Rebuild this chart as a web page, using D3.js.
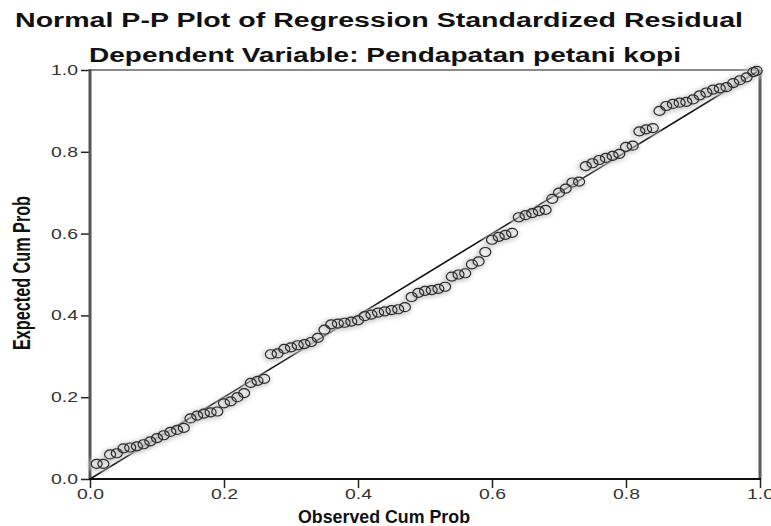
<!DOCTYPE html>
<html>
<head>
<meta charset="utf-8">
<script src="https://cdn.jsdelivr.net/npm/d3@7"></script>
<style>
  body { margin: 0; background: #fff; }
  text { font-family: 'Liberation Sans', Arial, sans-serif; }
</style>
</head>
<body>
<svg width="771" height="526"></svg>
<script>
const width = 771, height = 526

const titleText = 'Normal P-P Plot of Regression Standardized Residual';
const subtitleText = 'Dependent Variable: Pendapatan petani kopi';
const xLabel = 'Observed Cum Prob';
const yLabel = 'Expected Cum Prob';
const tickValues = [0, 0.2, 0.4, 0.6, 0.8, 1.0];

// observed cumulative probability of each residual (x)
const observed = [
    0.01, 0.02, 0.03, 0.04, 0.05, 0.06, 0.07, 0.08, 0.09, 0.10,
    0.11, 0.12, 0.13, 0.14, 0.15, 0.16, 0.17, 0.18, 0.19, 0.20,
    0.21, 0.22, 0.23, 0.24, 0.25, 0.26, 0.27, 0.28, 0.29, 0.30,
    0.31, 0.32, 0.33, 0.34, 0.35, 0.36, 0.37, 0.38, 0.39, 0.40,
    0.41, 0.42, 0.43, 0.44, 0.45, 0.46, 0.47, 0.48, 0.49, 0.50,
    0.51, 0.52, 0.53, 0.54, 0.55, 0.56, 0.57, 0.58, 0.59, 0.60,
    0.61, 0.62, 0.63, 0.64, 0.65, 0.66, 0.67, 0.68, 0.69, 0.70,
    0.71, 0.72, 0.73, 0.74, 0.75, 0.76, 0.77, 0.78, 0.79, 0.80,
    0.81, 0.82, 0.83, 0.84, 0.85, 0.86, 0.87, 0.88, 0.89, 0.90,
    0.91, 0.92, 0.93, 0.94, 0.95, 0.96, 0.97, 0.98, 0.99, 0.995
];

// expected cumulative probability under normality (y)
const expected = [
    0.037, 0.037, 0.060, 0.063, 0.075, 0.077, 0.080, 0.085, 0.092, 0.100,
    0.107, 0.115, 0.120, 0.125, 0.148, 0.155, 0.160, 0.163, 0.165, 0.185,
    0.190, 0.200, 0.210, 0.235, 0.240, 0.245, 0.305, 0.307, 0.318, 0.322,
    0.327, 0.330, 0.335, 0.345, 0.365, 0.378, 0.380, 0.382, 0.385, 0.388,
    0.398, 0.402, 0.407, 0.410, 0.413, 0.415, 0.420, 0.445, 0.455, 0.460,
    0.462, 0.465, 0.470, 0.495, 0.500, 0.503, 0.525, 0.532, 0.555, 0.585,
    0.592, 0.597, 0.602, 0.640, 0.645, 0.650, 0.655, 0.658, 0.685, 0.700,
    0.710, 0.725, 0.727, 0.765, 0.772, 0.780, 0.785, 0.790, 0.795, 0.812,
    0.815, 0.850, 0.855, 0.858, 0.900, 0.912, 0.917, 0.920, 0.922, 0.928,
    0.938, 0.945, 0.952, 0.955, 0.958, 0.968, 0.975, 0.982, 0.995, 0.998
];

const points = observed.map((o, i) => ({ obs: o, exp: expected[i] }));

const x = d3.scaleLinear().domain([0, 1]).range([90, 760]);
const y = d3.scaleLinear().domain([0, 1]).range([479, 70]);

const svg = d3.select('svg');

// soft grey smear round the markers, like the jpeg original
const defs = svg.append('defs');
defs.append('filter')
    .attr('id', 'smear')
    .attr('x', '-50%').attr('y', '-50%')
    .attr('width', '200%').attr('height', '200%')
    .append('feGaussianBlur')
    .attr('stdDeviation', 2.2);

// titles
svg.append('text')
    .attr('x', 379)
    .attr('y', 27)
    .attr('text-anchor', 'middle')
    .attr('textLength', 728)
    .attr('lengthAdjust', 'spacingAndGlyphs')
    .style('font-size', '20px')
    .style('font-weight', 'bold')
    .style('fill', '#111')
    .text(titleText);

svg.append('text')
    .attr('x', 385)
    .attr('y', 62)
    .attr('text-anchor', 'middle')
    .attr('textLength', 592)
    .attr('lengthAdjust', 'spacingAndGlyphs')
    .style('font-size', '20px')
    .style('font-weight', 'bold')
    .style('fill', '#111')
    .text(subtitleText);

// axes
const xAxis = svg.append('g')
    .attr('transform', `translate(0, ${y(0)})`)
    .call(d3.axisBottom(x).tickValues(tickValues).tickSize(9).tickFormat(d3.format('.1f')));

const yAxis = svg.append('g')
    .attr('transform', `translate(${x(0)}, 0)`)
    .call(d3.axisLeft(y).tickValues(tickValues).tickSize(9).tickFormat(d3.format('.1f')));

xAxis.select('.domain').remove();
yAxis.select('.domain').remove();
[xAxis, yAxis].forEach(a => {
    a.selectAll('line').attr('stroke', '#222').attr('stroke-width', 1.5);
    a.selectAll('text')
        .style('font-size', '14px')
        .style('font-family', "'Liberation Sans', Arial, sans-serif")
        .style('fill', '#333')
        .attr('textLength', 27)
        .attr('lengthAdjust', 'spacingAndGlyphs');
});
xAxis.selectAll('text').attr('y', 10);
yAxis.selectAll('text').attr('x', -12);

// frame
svg.append('line') // top
    .attr('x1', x(0)).attr('x2', x(1))
    .attr('y1', y(1)).attr('y2', y(1))
    .attr('stroke', '#8a8a8a').attr('stroke-width', 2);
svg.append('line') // right
    .attr('x1', x(1)).attr('x2', x(1))
    .attr('y1', y(1)).attr('y2', y(0))
    .attr('stroke', '#5a5a5a').attr('stroke-width', 3);
svg.append('line') // left
    .attr('x1', x(0)).attr('x2', x(0))
    .attr('y1', y(1) - 1).attr('y2', y(0))
    .attr('stroke', '#555').attr('stroke-width', 3);
svg.append('line') // bottom
    .attr('x1', x(0) - 1).attr('x2', x(1) + 1)
    .attr('y1', y(0)).attr('y2', y(0))
    .attr('stroke', '#111').attr('stroke-width', 2);

// reference diagonal
svg.append('line')
    .attr('x1', x(0)).attr('y1', y(0))
    .attr('x2', x(1)).attr('y2', y(1))
    .attr('stroke', '#111')
    .attr('stroke-width', 1.6);

// points
svg.append('g')
    .attr('filter', 'url(#smear)')
    .selectAll('ellipse')
    .data(points)
    .enter()
    .append('ellipse')
    .attr('cx', d => x(d.obs) - 1)
    .attr('cy', d => y(d.exp) + 1)
    .attr('rx', 6)
    .attr('ry', 5)
    .attr('fill', 'none')
    .attr('stroke', '#c8c8c8')
    .attr('stroke-width', 3);

svg.append('g')
    .selectAll('ellipse')
    .data(points)
    .enter()
    .append('ellipse')
    .attr('cx', d => x(d.obs))
    .attr('cy', d => y(d.exp))
    .attr('rx', 5.5)
    .attr('ry', 4.5)
    .attr('fill', 'none')
    .attr('stroke', '#2a2a2a')
    .attr('stroke-width', 1.2);

// axis titles
svg.append('text')
    .attr('x', 384)
    .attr('y', 523)
    .attr('text-anchor', 'middle')
    .attr('textLength', 172)
    .attr('lengthAdjust', 'spacingAndGlyphs')
    .style('font-size', '19px')
    .style('font-weight', 'bold')
    .style('fill', '#111')
    .text(xLabel);

svg.append('text')
    .attr('transform', 'translate(30, 273) rotate(-90)')
    .attr('text-anchor', 'middle')
    .attr('textLength', 154)
    .attr('lengthAdjust', 'spacingAndGlyphs')
    .style('font-size', '24px')
    .style('font-weight', 'bold')
    .style('fill', '#111')
    .text(yLabel);
</script>
</body>
</html>
